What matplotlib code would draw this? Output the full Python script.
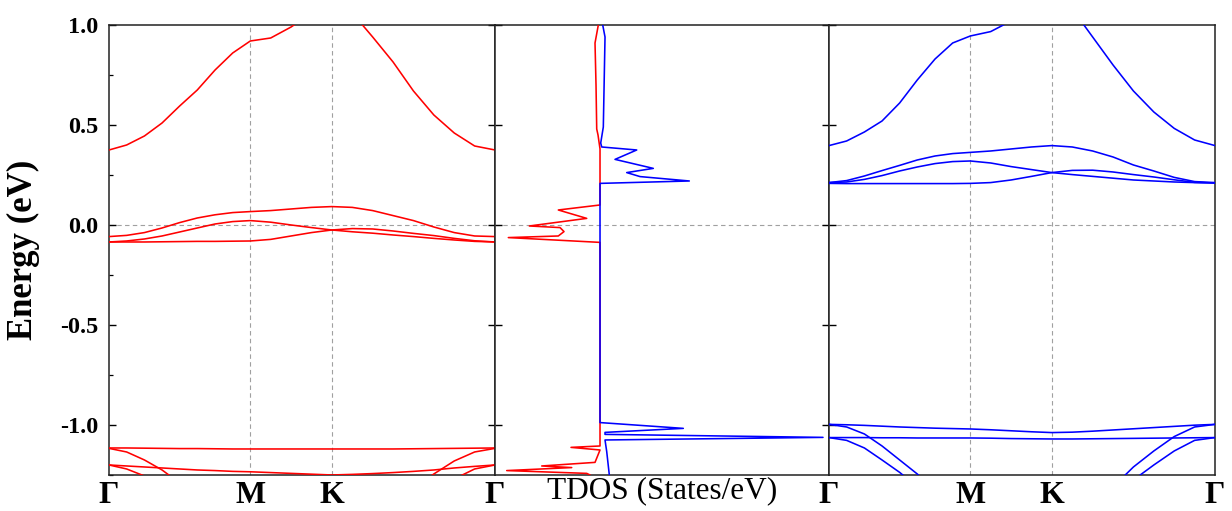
import numpy as np
import matplotlib
matplotlib.use("Agg")
import matplotlib.pyplot as plt
from matplotlib.ticker import MultipleLocator

plt.rcParams['font.family'] = ['Liberation Serif', 'DejaVu Serif']
plt.rcParams['axes.unicode_minus'] = False

# k-path (Gamma - M - K - Gamma), hexagonal distances
k_path = [0.0, 0.108, 0.217, 0.325, 0.433, 0.541, 0.650, 0.758, 0.866,
          0.991, 1.116, 1.241, 1.366,
          1.491, 1.616, 1.741, 1.866, 1.991, 2.116, 2.241, 2.366]
k_ticks = [0.0, 0.866, 1.366, 2.366]
k_labels = ['Γ', 'M', 'K', 'Γ']
nan = np.nan

# spin-up bands (red)
up_c1 = [0.375, 0.40, 0.445, 0.51, 0.595, 0.675, 0.775, 0.86, 0.92,
         0.935, 0.99, 1.06, 1.15,
         1.06, 0.94, 0.815, 0.67, 0.55, 0.46, 0.395, 0.375]
up_vA = [-0.058, -0.052, -0.038, -0.015, 0.012, 0.035, 0.051, 0.062, 0.067,
         0.072, 0.080, 0.088, 0.092,
         0.088, 0.072, 0.047, 0.022, -0.010, -0.038, -0.055, -0.058]
up_vB = [-0.085, -0.080, -0.070, -0.055, -0.035, -0.015, 0.005, 0.017, 0.022,
         0.014, 0.000, -0.013, -0.025,
         -0.034, -0.041, -0.050, -0.058, -0.067, -0.075, -0.082, -0.085]
up_vC = [-0.085, -0.085, -0.085, -0.084, -0.083, -0.082, -0.082, -0.081, -0.080,
         -0.072, -0.055, -0.038, -0.025,
         -0.018, -0.020, -0.030, -0.042, -0.053, -0.067, -0.079, -0.085]
up_f1 = [-1.115, -1.115, -1.116, -1.117, -1.118, -1.118, -1.119, -1.120, -1.120,
         -1.120, -1.120, -1.120, -1.120,
         -1.120, -1.120, -1.120, -1.119, -1.118, -1.117, -1.116, -1.115]
up_f2 = [-1.200, -1.205, -1.210, -1.215, -1.220, -1.225, -1.228, -1.232, -1.234,
         -1.238, -1.242, -1.246, -1.250,
         -1.247, -1.243, -1.238, -1.232, -1.225, -1.215, -1.207, -1.200]
up_d1 = [-1.117, -1.135, -1.175, -1.225, -1.29, nan, nan, nan, nan,
         nan, nan, nan, nan,
         nan, nan, nan, -1.32, -1.245, -1.18, -1.135, -1.117]
up_d2 = [-1.200, -1.22, -1.255, nan, nan, nan, nan, nan, nan,
         nan, nan, nan, nan,
         nan, nan, nan, nan, nan, -1.27, -1.22, -1.200]

# spin-down bands (blue)
dn_c1 = [0.397, 0.42, 0.465, 0.52, 0.61, 0.725, 0.83, 0.91, 0.945,
         0.967, 1.02, 1.10, 1.20,
         1.08, 0.94, 0.80, 0.67, 0.565, 0.483, 0.425, 0.397]
dn_v1 = [0.212, 0.222, 0.245, 0.272, 0.298, 0.325, 0.345, 0.357, 0.363,
         0.370, 0.380, 0.390, 0.397,
         0.390, 0.370, 0.340, 0.300, 0.270, 0.238, 0.217, 0.212]
dn_v2 = [0.212, 0.215, 0.228, 0.247, 0.270, 0.290, 0.307, 0.317, 0.320,
         0.310, 0.292, 0.277, 0.262,
         0.252, 0.243, 0.234, 0.225, 0.220, 0.215, 0.212, 0.210]
dn_v3 = [0.208, 0.207, 0.207, 0.207, 0.207, 0.207, 0.207, 0.207, 0.208,
         0.212, 0.225, 0.243, 0.262,
         0.273, 0.274, 0.265, 0.252, 0.240, 0.226, 0.213, 0.210]
dn_f1 = [-0.997, -0.999, -1.002, -1.006, -1.010, -1.013, -1.016, -1.018, -1.020,
         -1.024, -1.029, -1.034, -1.038,
         -1.036, -1.031, -1.025, -1.019, -1.013, -1.007, -1.001, -0.997]
dn_f2 = [-1.063, -1.063, -1.063, -1.064, -1.064, -1.065, -1.065, -1.065, -1.065,
         -1.066, -1.068, -1.069, -1.070,
         -1.070, -1.069, -1.068, -1.067, -1.066, -1.065, -1.064, -1.063]
dn_d1 = [-0.997, -1.010, -1.045, -1.105, -1.175, -1.245, -1.33, nan, nan,
         nan, nan, nan, nan,
         nan, nan, -1.31, -1.21, -1.13, -1.058, -1.010, -0.997]
dn_d2 = [-1.063, -1.077, -1.115, -1.175, -1.237, -1.31, nan, nan, nan,
         nan, nan, nan, nan,
         nan, nan, nan, -1.275, -1.20, -1.13, -1.077, -1.063]

bands_up = [up_c1, up_vA, up_vB, up_vC, up_f1, up_f2, up_d1, up_d2]
bands_dn = [dn_c1, dn_v1, dn_v2, dn_v3, dn_f1, dn_f2, dn_d1, dn_d2]

# total DOS (arb. units), spin up plotted to the left
E_up = [1.0, 0.91, 0.70, 0.48, 0.45, 0.38, 0.10, 0.075, 0.033, -0.005, -0.013,
        -0.033, -0.055, -0.063, -0.087, -1.105, -1.112, -1.125, -1.187, -1.205,
        -1.213, -1.228, -1.242, -1.25]
dos_up = [0.17, 0.5, 0.4, 0.33, 0.2, 0.0, 0.0, 4.17, 1.33, 7.07, 4.0,
          3.6, 4.17, 9.17, 0.0, 0.0, 2.9, 0.0, 0.5, 5.83,
          2.83, 9.33, 1.33, 1.0]
E_dn = [1.0, 0.94, 0.49, 0.41, 0.39, 0.375, 0.328, 0.283, 0.262, 0.242, 0.22,
        0.208, -0.988, -1.017, -1.037, -1.047, -1.062, -1.075, -1.133, -1.25]
dos_dn = [0.27, 0.5, 0.33, 0.07, 0.17, 3.67, 1.5, 5.33, 2.67, 4.0, 8.93,
          0.0, 0.0, 8.33, 0.5, 0.5, 22.3, 0.5, 0.67, 0.93]

RED = '#ff0000'
BLUE = '#0000ff'
GRID = '#a0a0a0'
ylo, yhi = -1.25, 1.0

fig = plt.figure(figsize=(12.32, 5.11), dpi=100)
ax1 = fig.add_axes([0.0885, 0.0705, 0.3133, 0.8806])
ax2 = fig.add_axes([0.4018, 0.0705, 0.2711, 0.8806])
ax3 = fig.add_axes([0.6729, 0.0705, 0.3133, 0.8806])


def band_panel(ax, bands, color):
    for b in bands:
        ax.plot(k_path, b, color=color, lw=1.15, zorder=3)
    for kv in k_ticks[1:3]:
        ax.axvline(kv, color=GRID, ls=(0, (4, 3)), lw=0.8, zorder=1)
    ax.axhline(0, color=GRID, ls=(0, (4, 3)), lw=0.8, zorder=1)
    ax.set_xlim(k_path[0], k_path[-1])
    ax.set_ylim(ylo, yhi)
    ax.set_xticks(k_ticks)
    ax.set_xticklabels(k_labels, fontsize=23, fontweight='bold')
    ax.tick_params(axis='x', length=0, pad=4)


band_panel(ax1, bands_up, RED)
band_panel(ax3, bands_dn, BLUE)

# DOS panel
ax2.plot([-d for d in dos_up], E_up, color=RED, lw=1.15, zorder=3)
ax2.plot(dos_dn, E_dn, color=BLUE, lw=1.15, zorder=4)
ax2.axhline(0, color=GRID, ls=(0, (4, 3)), lw=0.8, zorder=1)
ax2.set_xlim(-10.5, 22.9)
ax2.set_ylim(ylo, yhi)
ax2.set_xticks([])
ax2.set_xlabel('TDOS (States/eV)', fontsize=22.5, labelpad=1)

for ax in (ax1, ax2, ax3):
    for s in ax.spines.values():
        s.set_linewidth(1.1)
        s.set_color('#222222')
    ax.yaxis.set_major_locator(MultipleLocator(0.5))
    ax.tick_params(axis='y', direction='in', length=5, width=1.0,
                   left=True, right=True, labelleft=False)

ax3.tick_params(axis='y', right=False)
ax1.yaxis.set_minor_locator(MultipleLocator(0.25))
ax1.tick_params(axis='y', which='minor', direction='in', length=3, width=0.9,
                left=True, right=False)
ax1.tick_params(axis='y', labelleft=True, labelsize=17.5, pad=8)
for lbl in ax1.get_yticklabels():
    lbl.set_fontweight('bold')
ax1.set_ylabel('Energy (eV)', fontsize=25, fontweight='bold', labelpad=14)

fig.savefig('out.png', dpi=100)
